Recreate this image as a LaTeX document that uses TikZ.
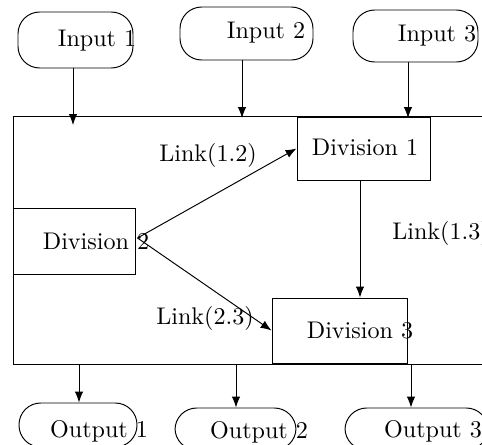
\documentclass[tikz,border=0pt]{standalone}
\usetikzlibrary{fit,arrows.meta}
\begin{document}
\begin{tikzpicture}[x=0.415pt,y=-0.415pt,
  pill/.style={draw,rounded corners=9pt,inner sep=0pt},
  boxx/.style={draw,inner sep=0pt},
  lbl/.style={inner sep=0pt,font=\normalsize},
  arr/.style={-{Latex[length=4.5pt,width=3.5pt]}}]
\useasboundingbox (0,0) rectangle (482,444);
\clip (0,0) rectangle (482,444);
% outer frame
\node (frame) [boxx,fit={(13,116) (500,364)}] {};
% inputs
\node (in1) [pill,fit={(18,12) (133,68)}] {};
\node (in2) [pill,fit={(180,7) (313,60)}] {};
\node (in3) [pill,fit={(353,10) (478,62)}] {};
\node (ti1) [lbl] at (97,41) {Input 1};
\node (ti2) [lbl] at (266,33) {Input 2};
\node (ti3) [lbl] at (437,36) {Input 3};
% divisions
\node (d1) [boxx,fit={(297,117) (430,180)}] {};
\node (d2) [boxx,fit={(13,208) (135,274)}] {};
\node (d3) [boxx,fit={(272,298) (407,363)}] {};
\node (td1) [lbl] at (365,147) {Division 1};
\node (td2) [lbl] at (96,241) {Division 2};
\node (td3) [lbl] at (360,331) {Division 3};
% links
\node (l12) [lbl] at (208,155) {Link(1.2)};
\node (l13) [lbl] at (441,233) {Link(1.3)};
\node (l23) [lbl] at (205,318) {Link(2.3)};
% outputs
\node (o1) [pill,fit={(19,403) (137,447)}] {};
\node (o2) [pill,fit={(175,408) (296,450)}] {};
\node (o3) [pill,fit={(345,408) (488,450)}] {};
\node (to1) [lbl] at (99,431) {Output 1};
\node (to2) [lbl] at (259,432) {Output 2};
\node (to3) [lbl] at (433,431) {Output 3};
% coordinates for arrow ends
\coordinate (a1) at (73,125);
\coordinate (a2) at (242,118);
\coordinate (a3) at (408,118);
\coordinate (b1) at (79,364);
\coordinate (b2) at (236,364);
\coordinate (b3) at (411,364);
% arrows
\draw[arr] (in1.south -| a1) -- (a1);
\draw[arr] (in2.south -| a2) -- (a2);
\draw[arr] (in3.south -| a3) -- (a3);
\draw[arr] (d2.east) ++(2,-3) coordinate (s2) -- (d1.west);
\draw[arr] (s2) -- (d3.west);
\draw[arr] (d1.south -| 360,0) -- (d3.north -| 360,0);
\draw[arr] (b1) -- (b1 |- o1.north);
\draw[arr] (b2) -- (b2 |- o2.north);
\draw[arr] (b3) -- (b3 |- o3.north);
\end{tikzpicture}
\end{document}
